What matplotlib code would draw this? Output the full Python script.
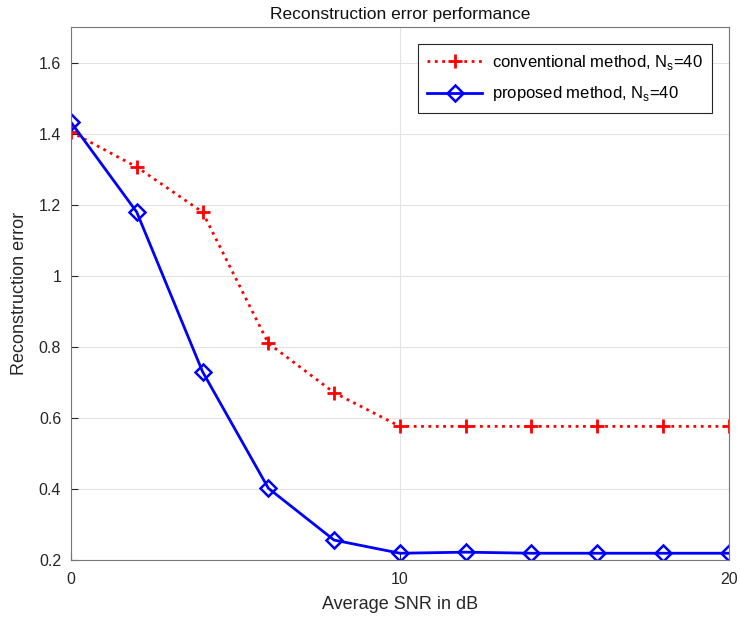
import matplotlib.pyplot as plt

plt.rcParams['font.family'] = ['Liberation Sans', 'DejaVu Sans']
plt.rcParams['mathtext.fontset'] = 'custom'
plt.rcParams['mathtext.rm'] = 'Liberation Sans'

snr = [0, 2, 4, 6, 8, 10, 12, 14, 16, 18, 20]
err_conventional = [1.405, 1.306, 1.179, 0.810, 0.671, 0.576, 0.576, 0.576, 0.576, 0.576, 0.576]
err_proposed = [1.432, 1.179, 0.730, 0.402, 0.256, 0.219, 0.222, 0.219, 0.219, 0.219, 0.219]

fig = plt.figure(figsize=(7.4, 6.28), dpi=100)
ax = fig.add_axes([0.0959, 0.1083, 0.889, 0.8487])

ax.plot(snr, err_conventional, color='red', linestyle=':', linewidth=2,
        marker='+', markersize=10, markeredgewidth=2,
        label=r'conventional method, N$_\mathregular{s}$=40')
ax.plot(snr, err_proposed, color='blue', linestyle='-', linewidth=2,
        marker='D', markersize=8, markeredgewidth=1.8, markerfacecolor='none',
        label=r'proposed method, N$_\mathregular{s}$=40')

ax.set_xlim(0, 20)
ax.set_ylim(0.2, 1.7)
ax.set_xticks([0, 10, 20])
ax.set_yticks([0.2, 0.4, 0.6, 0.8, 1, 1.2, 1.4, 1.6])
ax.set_yticklabels(['0.2', '0.4', '0.6', '0.8', '1', '1.2', '1.4', '1.6'])
ax.grid(True, color='#e3e3e3', linewidth=0.8)
ax.set_axisbelow(True)
ax.tick_params(direction='in', labelsize=11.5, colors='#262626', length=5)
ax.tick_params(axis='x', pad=9)
ax.tick_params(axis='y', pad=7)
for s in ax.spines.values():
    s.set_color('#777777')

ax.set_xlabel('Average SNR in dB', fontsize=13, color='#262626', labelpad=6)
ax.set_ylabel('Reconstruction error', fontsize=13, color='#262626', labelpad=8)
ax.set_title('Reconstruction error performance', fontsize=12.5, color='#111111', pad=6)

leg = ax.legend(loc='upper right', fontsize=12, fancybox=False, framealpha=1,
                edgecolor='#262626', borderaxespad=1.0, handlelength=3.3,
                labelspacing=0.75, borderpad=0.55, handletextpad=0.6)
leg.get_frame().set_linewidth(0.8)

fig.savefig('out.png', dpi=100)
